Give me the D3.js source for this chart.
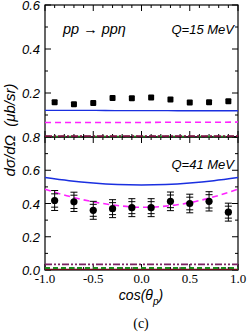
<!DOCTYPE html>
<html lang="en">
<head>
<meta charset="utf-8">
<title>pp to pp eta</title>
<script src="https://cdn.jsdelivr.net/npm/d3@7"></script>
<style>
  body { margin: 0; background: #fff; }
  svg text { font-family: "Liberation Sans", Arial, sans-serif; }
</style>
</head>
<body>
<script>
// data
var cosTheta = [-0.9, -0.7, -0.5, -0.3, -0.1, 0.1, 0.3, 0.5, 0.7, 0.9];
var q15Values = [0.158, 0.149, 0.155, 0.177, 0.176, 0.180, 0.170, 0.157, 0.158, 0.163];
var q41Values = [0.418, 0.410, 0.359, 0.369, 0.375, 0.375, 0.413, 0.400, 0.413, 0.348];
var q41StatErr = [0.040, 0.040, 0.036, 0.036, 0.036, 0.036, 0.038, 0.038, 0.040, 0.036];
var q41TotErr = [0.060, 0.058, 0.054, 0.054, 0.054, 0.054, 0.056, 0.056, 0.058, 0.054];

var curveX = [-1, -0.75, -0.5, -0.25, 0, 0.25, 0.5, 0.75, 1];
var q15Solid = [0.121, 0.121, 0.121, 0.120, 0.120, 0.120, 0.119, 0.119, 0.119];
var q15Dashed = [0.066, 0.066, 0.066, 0.066, 0.066, 0.067, 0.067, 0.067, 0.068];
var q15DashDot = [0.004, 0.004, 0.004, 0.004, 0.004, 0.004, 0.004, 0.004, 0.004];
var q15Green = [0.002, 0.002, 0.002, 0.002, 0.002, 0.002, 0.002, 0.002, 0.002];
var q41Solid = [0.556, 0.537, 0.523, 0.514, 0.511, 0.514, 0.523, 0.537, 0.556];
var q41Dashed = [0.486, 0.443, 0.410, 0.388, 0.377, 0.384, 0.405, 0.440, 0.486];
var q41DashDot = [0.034, 0.034, 0.034, 0.034, 0.034, 0.034, 0.034, 0.034, 0.034];
var q41Green = [0.012, 0.012, 0.012, 0.012, 0.012, 0.012, 0.012, 0.012, 0.012];
var q41Maroon = [0.004, 0.004, 0.004, 0.004, 0.004, 0.004, 0.004, 0.004, 0.004];

var xTicks = [-1, -0.5, 0, 0.5, 1];
var yTicksTop = [0.2, 0.4, 0.6];
var yTicksBottom = [0, 0.2, 0.4, 0.6, 0.8];

var W = 249, H = 333;
var left = 45, right = 238;
var svg = d3.select("body").append("svg").attr("width", W).attr("height", H);

var x = d3.scaleLinear().domain([-1, 1]).range([left, right]);
var yTop = d3.scaleLinear().domain([0, 0.6]).range([137, 5]);
var yBot = d3.scaleLinear().domain([0, 0.8]).range([270, 137]);

var minorX = d3.range(-10, 11).map(function(d) { return d / 10; });

function drawPanel(y, yMax, yLabels) {
  var g = svg.append("g");
  var y0 = y(0), y1 = y(yMax);
  // minor + major ticks on all four sides, pointing in
  var minorY = d3.range(0, Math.round(yMax * 10) + 1).map(function(d) { return d / 10; });
  minorY.forEach(function(v) {
    var major = Math.round(v * 10) % 2 == 0;
    var len = major ? 6 : 3;
    g.append("line").attr("x1", left).attr("x2", left + len).attr("y1", y(v)).attr("y2", y(v));
    g.append("line").attr("x1", right).attr("x2", right - len).attr("y1", y(v)).attr("y2", y(v));
  });
  minorX.forEach(function(v) {
    var major = Math.round(v * 10) % 5 == 0;
    var len = major ? 6 : 3;
    g.append("line").attr("x1", x(v)).attr("x2", x(v)).attr("y1", y0).attr("y2", y0 - len);
    g.append("line").attr("x1", x(v)).attr("x2", x(v)).attr("y1", y1).attr("y2", y1 + len);
  });
  g.selectAll("line").attr("stroke", "#000").attr("stroke-width", 1);
  g.append("rect").attr("x", left).attr("y", y1).attr("width", right - left).attr("height", y0 - y1)
    .attr("fill", "none").attr("stroke", "#000").attr("stroke-width", 1.2);
  g.selectAll(".ylab").data(yLabels).enter().append("text")
    .attr("x", left - 5).attr("y", function(d) { return y(d) + 5; })
    .attr("text-anchor", "end").attr("font-size", 13).attr("font-style", "italic")
    .text(function(d) { return d.toFixed(1); });
}

drawPanel(yTop, 0.6, yTicksTop);
drawPanel(yBot, 0.8, yTicksBottom);

function curve(y, vals, color, width, dash) {
  var line = d3.line().x(function(d, i) { return x(curveX[i]); }).y(function(d) { return y(d); })
    .curve(d3.curveMonotoneX);
  svg.append("path").datum(vals).attr("d", line).attr("fill", "none")
    .attr("stroke", color).attr("stroke-width", width).attr("stroke-dasharray", dash);
}

// Q=15 panel curves
curve(yTop, q15Solid, "#1a2fe0", 1.4, null);
curve(yTop, q15Dashed, "#ff22ff", 1.6, "6,4");
curve(yTop, q15Green, "#1d8a1d", 1.6, "5,3");
curve(yTop, q15DashDot, "#7a1040", 1.6, "7,2,2,2");
// Q=41 panel curves
curve(yBot, q41Solid, "#1a2fe0", 1.4, null);
curve(yBot, q41Dashed, "#ff22ff", 1.6, "6,4");
curve(yBot, q41Maroon, "#6b0f1a", 1.4, null);
curve(yBot, q41Green, "#1d8a1d", 2, "5,3");
curve(yBot, q41DashDot, "#7a2060", 1.6, "7,2,2,2,2,2");

// Q=15 data: squares
svg.selectAll(".sq").data(q15Values).enter().append("rect")
  .attr("x", function(d, i) { return x(cosTheta[i]) - 3; })
  .attr("y", function(d) { return yTop(d) - 3; })
  .attr("width", 6).attr("height", 6).attr("rx", 1).attr("fill", "#000");

// Q=41 data: circles with stat + total errors
var pts = svg.selectAll(".pt").data(q41Values).enter().append("g");
pts.append("line")
  .attr("x1", function(d, i) { return x(cosTheta[i]); })
  .attr("x2", function(d, i) { return x(cosTheta[i]); })
  .attr("y1", function(d, i) { return yBot(d + q41TotErr[i]); })
  .attr("y2", function(d, i) { return yBot(d - q41TotErr[i]); })
  .attr("stroke", "#000").attr("stroke-width", 1);
[q41StatErr, q41TotErr].forEach(function(err) {
  [1, -1].forEach(function(s) {
    pts.append("line")
      .attr("x1", function(d, i) { return x(cosTheta[i]) - 3.5; })
      .attr("x2", function(d, i) { return x(cosTheta[i]) + 3.5; })
      .attr("y1", function(d, i) { return yBot(d + s * err[i]); })
      .attr("y2", function(d, i) { return yBot(d + s * err[i]); })
      .attr("stroke", "#000").attr("stroke-width", 1);
  });
});
pts.append("circle")
  .attr("cx", function(d, i) { return x(cosTheta[i]); })
  .attr("cy", function(d) { return yBot(d); })
  .attr("r", 3.6).attr("fill", "#000");

// x tick labels
svg.selectAll(".xlab").data(xTicks).enter().append("text")
  .attr("x", function(d) { return x(d); }).attr("y", 283)
  .attr("text-anchor", "middle").attr("font-size", 13)
  .style("font-family", "'Liberation Serif', 'Times New Roman', serif")
  .text(function(d) { return d.toFixed(1); });

// annotations
svg.append("text").attr("x", 63).attr("y", 34).attr("font-size", 14.5).attr("font-style", "italic")
  .text("pp \u2192 pp\u03b7");
svg.append("text").attr("x", 234).attr("y", 34).attr("text-anchor", "end").attr("font-size", 13)
  .attr("font-style", "italic").text("Q=15 MeV");
svg.append("text").attr("x", 234).attr("y", 169).attr("text-anchor", "end").attr("font-size", 13)
  .attr("font-style", "italic").text("Q=41 MeV");

svg.append("text").attr("transform", "translate(15,130) rotate(-90)").attr("text-anchor", "middle")
  .attr("font-size", 15).attr("font-style", "italic").style("white-space", "pre")
  .text("d\u03c3/d\u03a9  (\u03bcb/sr)");

var xl = svg.append("text").attr("x", 141).attr("y", 300).attr("text-anchor", "middle")
  .attr("font-size", 14).attr("font-style", "italic");
xl.append("tspan").text("cos(\u03b8");
xl.append("tspan").attr("dy", 5).attr("font-size", 10).text("p");
xl.append("tspan").attr("dy", -5).text(")");

svg.append("text").attr("x", 141).attr("y", 328).attr("text-anchor", "middle").attr("font-size", 14)
  .style("font-family", "'Liberation Serif', 'Times New Roman', serif").text("(c)");
</script>
</body>
</html>
